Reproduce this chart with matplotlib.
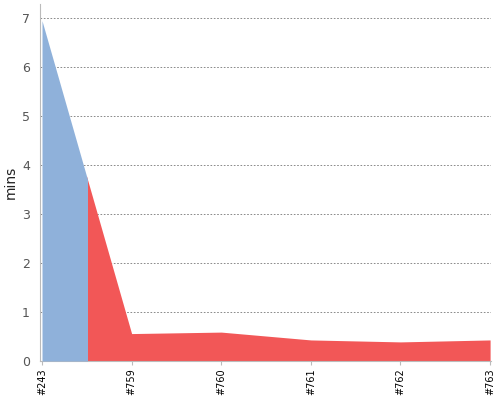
import numpy as np
import matplotlib.pyplot as plt
from matplotlib.patches import Rectangle

builds = ["#243", "#759", "#760", "#761", "#762", "#763"]
mins = [6.95, 0.56, 0.59, 0.43, 0.39, 0.43]

x = np.arange(len(builds))

fig = plt.figure(figsize=(5, 4), dpi=100)
ax = fig.add_axes([0.079, 0.0975, 0.903, 0.8925])

# same area drawn twice, split half-way between the first two builds
red = ax.fill_between(x, 0, mins, color="#f25757", linewidth=0, zorder=2)
red.set_clip_path(Rectangle((0.5, 0), 10, 10, transform=ax.transData))
blue = ax.fill_between(x, 0, mins, color="#8fb1da", linewidth=0, zorder=3)
blue.set_clip_path(Rectangle((-1, 0), 1.5, 10, transform=ax.transData))

ax.set_xlim(-0.028, 5.01)
ax.set_ylim(0, 7.29)
ax.set_yticks(range(0, 8))
ax.set_xticks(x)
ax.set_xticklabels(builds, fontsize=7, color="black")

for v in range(1, 8):
    ax.axhline(v, color="#777777", linestyle=(0, (2, 2)), linewidth=0.6, zorder=1)

for s in ["top", "right"]:
    ax.spines[s].set_visible(False)
ax.spines["left"].set_color("#bbbbbb")
ax.spines["bottom"].set_color("#bbbbbb")
ax.tick_params(axis="y", length=0, labelsize=9, labelcolor="#555555", pad=7)
ax.tick_params(axis="x", length=3, color="#bbbbbb", pad=2, labelrotation=90)

ax.set_ylabel("mins", fontsize=10, color="#222222", va="center")
ax.yaxis.set_label_coords(-0.063, 0.5)

fig.savefig("out.png")
